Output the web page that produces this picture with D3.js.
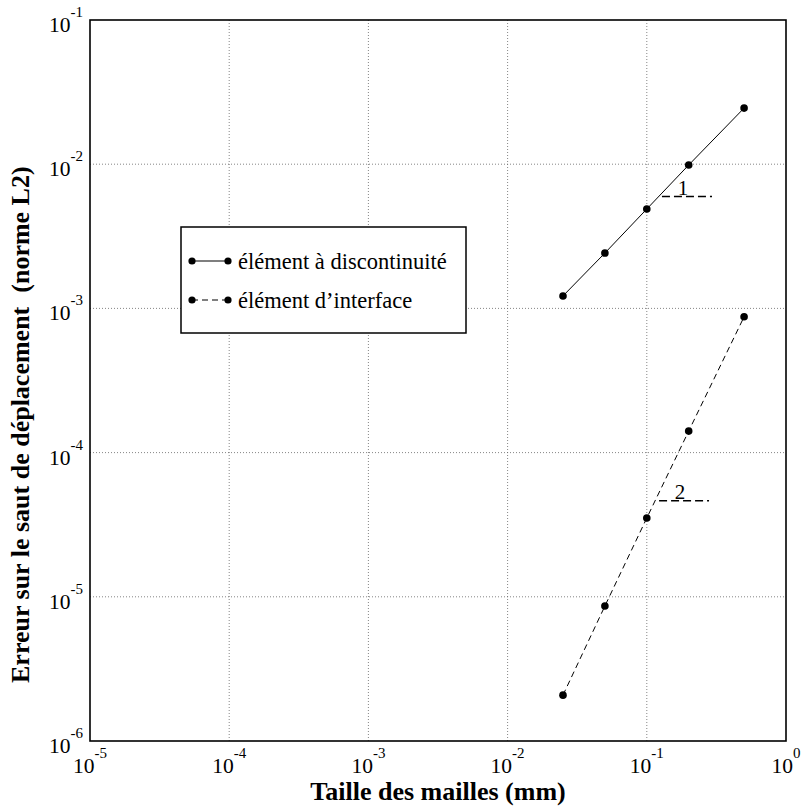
<!DOCTYPE html>
<html><head><meta charset="utf-8">
<script src="https://cdn.jsdelivr.net/npm/d3@7"></script>
<style>body{margin:0;background:#fff}svg{display:block}text{font-family:"Liberation Serif","Times New Roman",serif}</style>
</head><body><div id="chart"></div>
<script>
const meshSizes = [0.025, 0.05, 0.1, 0.2, 0.5];
const errDiscontinuity = [0.00122, 0.00242, 0.00489, 0.00987, 0.0245];
const errInterface = [2.08e-6, 8.63e-6, 3.52e-5, 1.41e-4, 8.75e-4];
const seriesNames = ["élément à discontinuité", "élément d\u2019interface"];
const xTickExp = [-5, -4, -3, -2, -1, 0];
const yTickExp = [-6, -5, -4, -3, -2, -1];
const slopeLabels = [{label: "1", x0: 0.1285, x1: 0.294, y: 0.00596}, {label: "2", x0: 0.1225, x1: 0.28, y: 4.63e-5}];

const W = 804, H = 807;
const m = {left: 90, right: 18, top: 20, bottom: 66};
const svg = d3.select("#chart").append("svg").attr("width", W).attr("height", H);
const x = d3.scaleLog().domain([1e-5, 1]).range([m.left, W - m.right]);
const y = d3.scaleLog().domain([1e-6, 1e-1]).range([H - m.bottom, m.top]);

// grid
const g = svg.append("g");
xTickExp.slice(1, -1).forEach(e => {
  g.append("line").attr("x1", x(10 ** e)).attr("x2", x(10 ** e)).attr("y1", y(1e-6)).attr("y2", y(1e-1))
    .attr("stroke", "#666").attr("stroke-width", 0.8).attr("stroke-dasharray", "1,2");
});
yTickExp.slice(1, -1).forEach(e => {
  g.append("line").attr("y1", y(10 ** e)).attr("y2", y(10 ** e)).attr("x1", x(1e-5)).attr("x2", x(1))
    .attr("stroke", "#666").attr("stroke-width", 0.8).attr("stroke-dasharray", "1,2");
});

// axes via d3 (ticks hidden, labels custom)
const xAxis = d3.axisBottom(x).tickValues(xTickExp.map(e => 10 ** e)).tickSize(0).tickFormat("");
const yAxis = d3.axisLeft(y).tickValues(yTickExp.map(e => 10 ** e)).tickSize(0).tickFormat("");
svg.append("g").attr("transform", `translate(0,${y(1e-6)})`).call(xAxis).select(".domain").remove();
svg.append("g").attr("transform", `translate(${x(1e-5)},0)`).call(yAxis).select(".domain").remove();

xTickExp.forEach(e => {
  const t = svg.append("text").attr("x", x(10 ** e)).attr("y", 773).attr("text-anchor", "middle")
    .attr("font-size", 21.5);
  t.append("tspan").text("10");
  t.append("tspan").attr("font-size", 15).attr("dy", -15).text(e);
});
yTickExp.forEach(e => {
  const t = svg.append("text").attr("x", 83).attr("y", y(10 ** e) + 12).attr("text-anchor", "end")
    .attr("font-size", 21.5);
  t.append("tspan").text("10");
  t.append("tspan").attr("font-size", 15).attr("dy", -15).text(e);
});

// frame
svg.append("rect").attr("x", x(1e-5)).attr("y", y(1e-1)).attr("width", x(1) - x(1e-5))
  .attr("height", y(1e-6) - y(1e-1)).attr("fill", "none").attr("stroke", "#000").attr("stroke-width", 1.6);

// series
const series = [
  {vals: errDiscontinuity, dash: null},
  {vals: errInterface, dash: "6,4"}
];
const line = d3.line().x(d => x(d[0])).y(d => y(d[1]));
series.forEach(s => {
  const pts = meshSizes.map((v, i) => [v, s.vals[i]]);
  svg.append("path").datum(pts).attr("d", line).attr("fill", "none").attr("stroke", "#000")
    .attr("stroke-width", 1).attr("stroke-dasharray", s.dash);
  svg.selectAll(null).data(pts).enter().append("circle").attr("cx", d => x(d[0])).attr("cy", d => y(d[1]))
    .attr("r", 3.8).attr("fill", "#000");
});

// slope markers
slopeLabels.forEach(s => {
  svg.append("line").attr("x1", x(s.x0)).attr("x2", x(s.x1)).attr("y1", y(s.y)).attr("y2", y(s.y))
    .attr("stroke", "#000").attr("stroke-width", 1.5).attr("stroke-dasharray", "8,4");
  svg.append("text").attr("x", x(s.x0) + 21).attr("y", y(s.y) - 2)
    .attr("text-anchor", "middle").attr("font-size", 21).text(s.label);
});

// legend
const lg = svg.append("g");
lg.append("rect").attr("x", 181).attr("y", 227).attr("width", 285).attr("height", 106)
  .attr("fill", "#fff").attr("stroke", "#000").attr("stroke-width", 1.5);
seriesNames.forEach((n, i) => {
  const yy = 261 + i * 39;
  lg.append("line").attr("x1", 192).attr("x2", 228).attr("y1", yy).attr("y2", yy).attr("stroke", "#000")
    .attr("stroke-width", 1.2).attr("stroke-dasharray", series[i].dash);
  [192, 228].forEach(cx => lg.append("circle").attr("cx", cx).attr("cy", yy).attr("r", 3.6).attr("fill", "#000"));
  lg.append("text").attr("x", 238).attr("y", yy + 8).attr("font-size", 22.5).text(n);
});

// axis titles
svg.append("text").attr("x", 438).attr("y", 800).attr("text-anchor", "middle").attr("font-size", 26)
  .attr("font-weight", "bold").text("Taille des mailles (mm)");
const yt = svg.append("text").attr("transform", "translate(29,683) rotate(-90)").attr("text-anchor", "start")
  .attr("font-size", 26).attr("font-weight", "bold");
yt.append("tspan").text("Erreur sur le saut de déplacement");
yt.append("tspan").attr("dx", 14).text("(norme L2)");
</script></body></html>
